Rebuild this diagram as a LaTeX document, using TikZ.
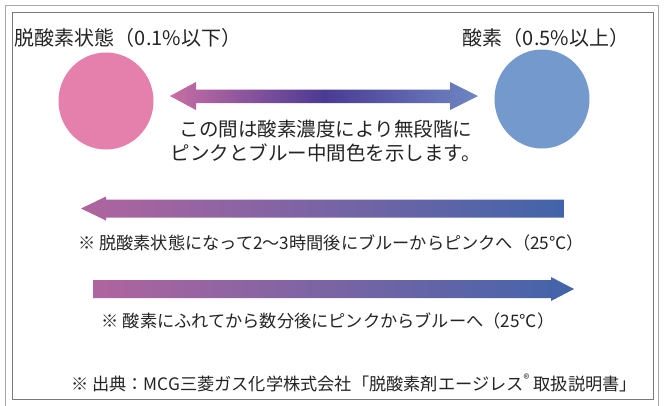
\documentclass[tikz,border=0pt]{standalone}
\usepackage{fontspec}
\setmainfont{Noto Sans CJK JP}
\usetikzlibrary{shapes.geometric}
\definecolor{txt}{HTML}{262324}
\definecolor{pinkc}{HTML}{E57FAC}
\definecolor{bluec}{HTML}{7499CC}
\definecolor{aAl}{HTML}{C86EA4}
\definecolor{aAm}{HTML}{4B3A94}
\definecolor{aAr}{HTML}{6E87C3}
\definecolor{aBl}{HTML}{B0649F}
\definecolor{aBr}{HTML}{4264AA}
\definecolor{frameout}{HTML}{A8A8A8}
\definecolor{framein}{HTML}{7A7A7A}
\begin{document}
\begin{tikzpicture}[x=1pt,y=-1pt,
  lbl/.style={text=txt, inner sep=0pt, anchor=center},
  big/.style={lbl, font=\fontsize{20}{24}\selectfont},
  mid/.style={lbl, font=\fontsize{19.5}{23}\selectfont},
  small/.style={lbl, font=\fontsize{17.2}{20}\selectfont},
  foot/.style={lbl, font=\fontsize{17.2}{20}\selectfont},
  blob/.style={ellipse, draw=none, inner sep=0pt}]
\useasboundingbox (0,0) rectangle (665,405);
\fill[white] (0,0) rectangle (665,405);
% frames
\draw[frameout, line width=1pt] (5.5,406) -- (5.5,5.5) -- (658,5.5) -- (658,406);
\draw[framein, line width=0.9pt] (12,12) rectangle (653,399);
% circles
\node[blob, fill=pinkc, minimum width=95pt, minimum height=97pt] (pink) at (106,101) {};
\node[blob, fill=bluec, minimum width=95pt, minimum height=99pt] (blue) at (542,99) {};
% titles
\node[big] (tpink) at (128,38) {脱酸素状態（0.1\%以下）};
\node[big] (tblue) at (546,38) {酸素（0.5\%以上）};
% double arrow
\shade[left color=aAl, right color=aAr, middle color=aAm]
  (170,96) -- (196,82) -- (196,89.5) -- (450,89.5) -- (450,82) -- (478,96)
  -- (450,110) -- (450,103) -- (196,103) -- (196,110) -- cycle;
\node[mid] (m1) at (326,129) {この間は酸素濃度により無段階に};
\node[mid] (m2) at (326,153) {ピンクとブルー中間色を示します。};
% arrow to pink
\shade[left color=aBl, right color=aBr]
  (81,208.5) -- (106,196.5) -- (106,199.5) -- (564,199.5) -- (564,217.5)
  -- (106,217.5) -- (106,220.5) -- cycle;
\node[small] (n1) at (331,243) {※ 脱酸素状態になって2～3時間後にブルーからピンクへ（25℃）};
% arrow to blue
\shade[left color=aBl, right color=aBr]
  (93,280) -- (551,280) -- (551,277) -- (574,289) -- (551,301) -- (551,298)
  -- (93,298) -- cycle;
\node[small] (n2) at (328,321) {※ 酸素にふれてから数分後にピンクからブルーへ（25℃）};
% footer
\node[foot] (src) at (354,383) {※ 出典：MCG三菱ガス化学株式会社「脱酸素剤エージレス\textsuperscript{®} 取扱説明書」};
\end{tikzpicture}
\end{document}
